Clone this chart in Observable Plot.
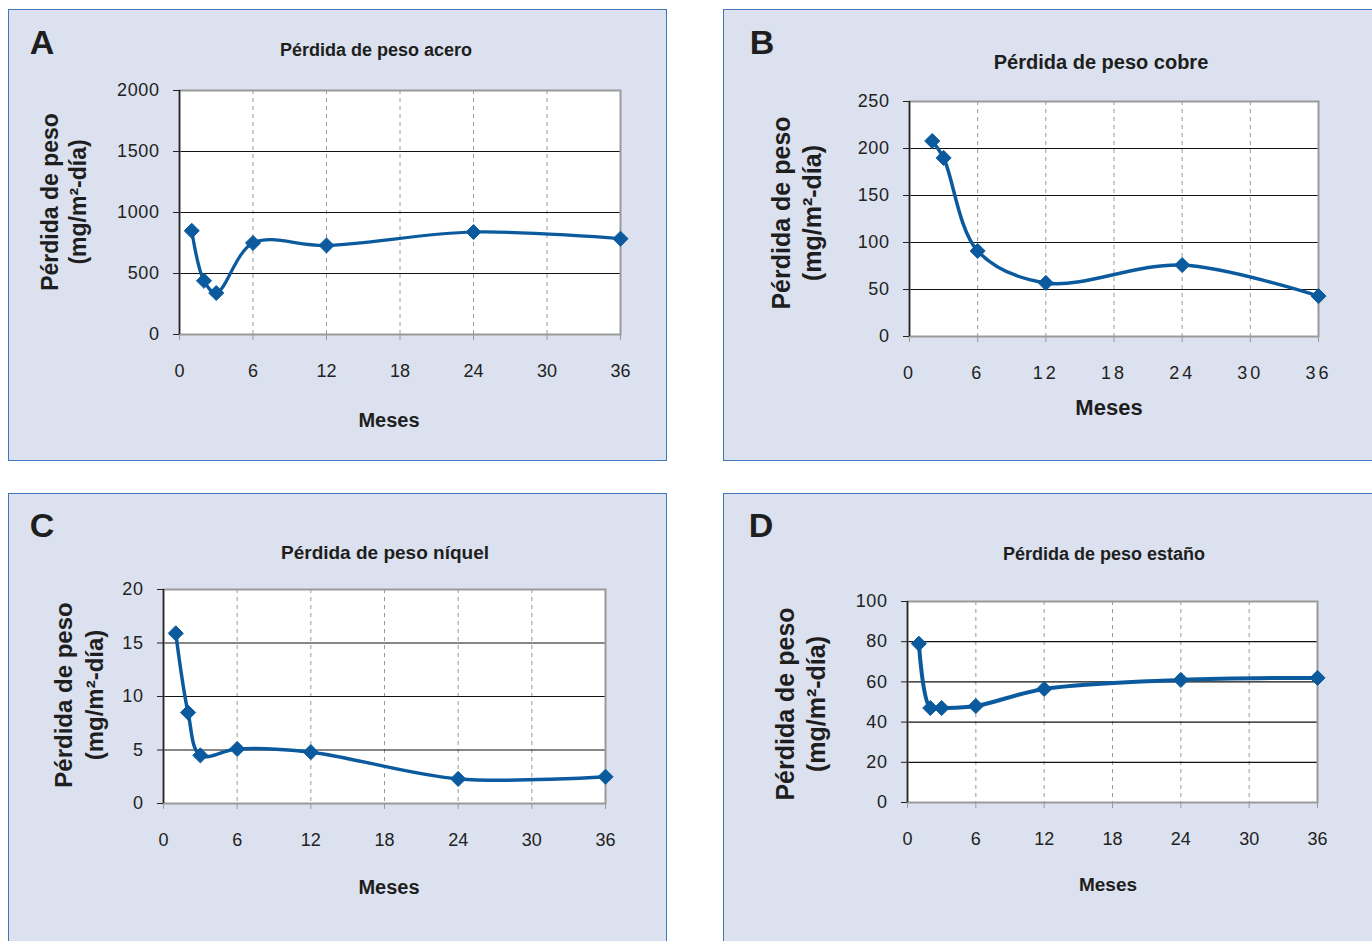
<!DOCTYPE html>
<html>
<head>
<meta charset="utf-8">
<script src="https://cdn.jsdelivr.net/npm/d3@7"></script>
<script src="https://cdn.jsdelivr.net/npm/@observablehq/plot@0.6"></script>
<style>
  html, body { margin: 0; padding: 0; background: #fff; }
  #page { position: relative; width: 1372px; height: 941px; overflow: hidden; background: #fff;
          font-family: "Liberation Sans", Arial, sans-serif; color: #222; }
  .panel { position: absolute; background: #dbe1ee; border: 1.5px solid #3f78bd; box-sizing: border-box; }
  .txt { position: absolute; transform: translate(-50%, -50%); white-space: nowrap; font-weight: bold; color: #1e1e1e; }
  .ylab { position: absolute; transform: translate(-50%, -50%) rotate(-90deg); white-space: nowrap;
          font-weight: bold; text-align: center; color: #1e1e1e; }
  svg.plot { position: absolute; background: transparent !important; }
</style>
</head>
<body>
<div id="page"></div>
<script>
// ---- data ----
const xTicks = [0, 6, 12, 18, 24, 30, 36];
const xGrid = [6, 12, 18, 24, 30];

const mesesAcero = [1, 2, 3, 6, 12, 24, 36];
const acero = [850, 440, 340, 750, 730, 840, 785];
const ticksAcero = [0, 500, 1000, 1500, 2000];

const mesesCobre = [2, 3, 6, 12, 24, 36];
const cobre = [208, 190, 91, 57, 76, 43];
const ticksCobre = [0, 50, 100, 150, 200, 250];

const mesesNiquel = [1, 2, 3, 6, 12, 24, 36];
const niquel = [15.9, 8.5, 4.5, 5.1, 4.8, 2.3, 2.5];
const ticksNiquel = [0, 5, 10, 15, 20];

const mesesEstano = [1, 2, 3, 6, 12, 24, 36];
const estano = [79, 47, 47, 48, 56.5, 61, 62];
const ticksEstano = [0, 20, 40, 60, 80, 100];

const panels = [
  { letter: "A", title: "Pérdida de peso acero", months: mesesAcero, values: acero, yTicks: ticksAcero,
    box: {x: 8, y: 9, w: 659, h: 452}, frame: {x0: 179, x1: 620, y0: 90, y1: 334},
    letterPos: [42, 42], titlePos: [376, 50], titleSize: 18,
    ylabPos: [64, 202], ylabSize: 23, ylabLine: 28,
    mesesPos: [389, 420], mesesSize: 20, tickSize: 18, xLetterSpacing: 0, lineW: 3.2 },
  { letter: "B", title: "Pérdida de peso cobre", months: mesesCobre, values: cobre, yTicks: ticksCobre,
    box: {x: 723, y: 9, w: 660, h: 452}, frame: {x0: 909, x1: 1318, y0: 101, y1: 336},
    letterPos: [762, 42], titlePos: [1101, 62], titleSize: 20,
    ylabPos: [797, 213], ylabSize: 25, ylabLine: 31,
    mesesPos: [1109, 408], mesesSize: 22, tickSize: 18, xLetterSpacing: 3, lineW: 3.5 },
  { letter: "C", title: "Pérdida de peso níquel", months: mesesNiquel, values: niquel, yTicks: ticksNiquel,
    box: {x: 8, y: 493, w: 659, h: 470}, frame: {x0: 163, x1: 605, y0: 589, y1: 803},
    letterPos: [42, 525], titlePos: [385, 553], titleSize: 19,
    ylabPos: [79, 695], ylabSize: 24, ylabLine: 31,
    mesesPos: [389, 887], mesesSize: 20, tickSize: 18, xLetterSpacing: 0, lineW: 3.5 },
  { letter: "D", title: "Pérdida de peso estaño", months: mesesEstano, values: estano, yTicks: ticksEstano,
    box: {x: 723, y: 493, w: 660, h: 470}, frame: {x0: 907, x1: 1317, y0: 601, y1: 802},
    letterPos: [761, 525], titlePos: [1104, 554], titleSize: 18,
    ylabPos: [801, 704], ylabSize: 25, ylabLine: 31,
    mesesPos: [1108, 885], mesesSize: 19, tickSize: 18, xLetterSpacing: 0, lineW: 4 }
];

const page = document.getElementById("page");
const lineColor = "#0b5a9e";

function addText(cls, html, x, y, style) {
  const d = document.createElement("div");
  d.className = cls;
  d.innerHTML = html;
  d.style.left = x + "px";
  d.style.top = y + "px";
  Object.assign(d.style, style || {});
  page.appendChild(d);
  return d;
}

for (const p of panels) {
  const pd = document.createElement("div");
  pd.className = "panel";
  Object.assign(pd.style, {left: p.box.x + "px", top: p.box.y + "px", width: p.box.w + "px", height: p.box.h + "px"});
  page.appendChild(pd);

  const data = p.months.map((m, i) => ({mes: m, valor: p.values[i]}));
  const yMax = p.yTicks[p.yTicks.length - 1];
  const inner = p.yTicks.slice(1, -1);

  const chart = Plot.plot({
    width: p.box.w,
    height: p.box.h,
    marginLeft: p.frame.x0 - p.box.x,
    marginRight: p.box.x + p.box.w - p.frame.x1,
    marginTop: p.frame.y0 - p.box.y,
    marginBottom: p.box.y + p.box.h - p.frame.y1,
    style: {background: "transparent", fontFamily: "Liberation Sans, Arial, sans-serif", fontSize: p.tickSize + "px", color: "#222"},
    x: {domain: [0, 36]},
    y: {domain: [0, yMax]},
    marks: [
      Plot.frame({fill: "white", stroke: null}),
      Plot.ruleX(xGrid, {stroke: "#9a9a9a", strokeWidth: 1, strokeDasharray: "4,4"}),
      Plot.ruleY(inner, {stroke: "#111", strokeWidth: 1.2}),
      Plot.frame({stroke: "#9a9a9a", strokeWidth: 2}),
      Plot.ruleX([0], {stroke: "#222", strokeWidth: 1.5}),
      Plot.axisY({ticks: p.yTicks, tickSize: 6, tickPadding: 14, tickFormat: d => String(d), stroke: "#222", fill: "#222", label: null}),
      Plot.axisX({ticks: xTicks, tickSize: 6, tickPadding: 24, tickFormat: d => String(d), stroke: "#9a9a9a", fill: "#222", label: null}),
      Plot.line(data, {x: "mes", y: "valor", curve: "catmull-rom", stroke: lineColor, strokeWidth: p.lineW}),
      Plot.dot(data, {x: "mes", y: "valor", symbol: "diamond2", r: 6.8, fill: lineColor, stroke: lineColor, strokeWidth: 1})
    ]
  });
  chart.classList.add("plot");
  chart.style.left = p.box.x + "px";
  chart.style.top = p.box.y + "px";
  chart.querySelectorAll('[aria-label="y-axis tick label"] text').forEach(t => t.style.letterSpacing = "0.6px");
  if (p.xLetterSpacing) {
    chart.querySelectorAll('[aria-label="x-axis tick label"] text').forEach(t => {
      t.style.letterSpacing = p.xLetterSpacing + "px";
    });
  }
  page.appendChild(chart);

  addText("txt", p.letter, p.letterPos[0], p.letterPos[1], {fontSize: "34px", color: "#1e1e1e"});
  addText("txt", p.title, p.titlePos[0], p.titlePos[1], {fontSize: p.titleSize + "px"});
  addText("ylab", "Pérdida de peso<br>(mg/m²-día)", p.ylabPos[0], p.ylabPos[1],
          {fontSize: p.ylabSize + "px", lineHeight: p.ylabLine + "px"});
  addText("txt", "Meses", p.mesesPos[0], p.mesesPos[1], {fontSize: p.mesesSize + "px"});
}
</script>
</body>
</html>
